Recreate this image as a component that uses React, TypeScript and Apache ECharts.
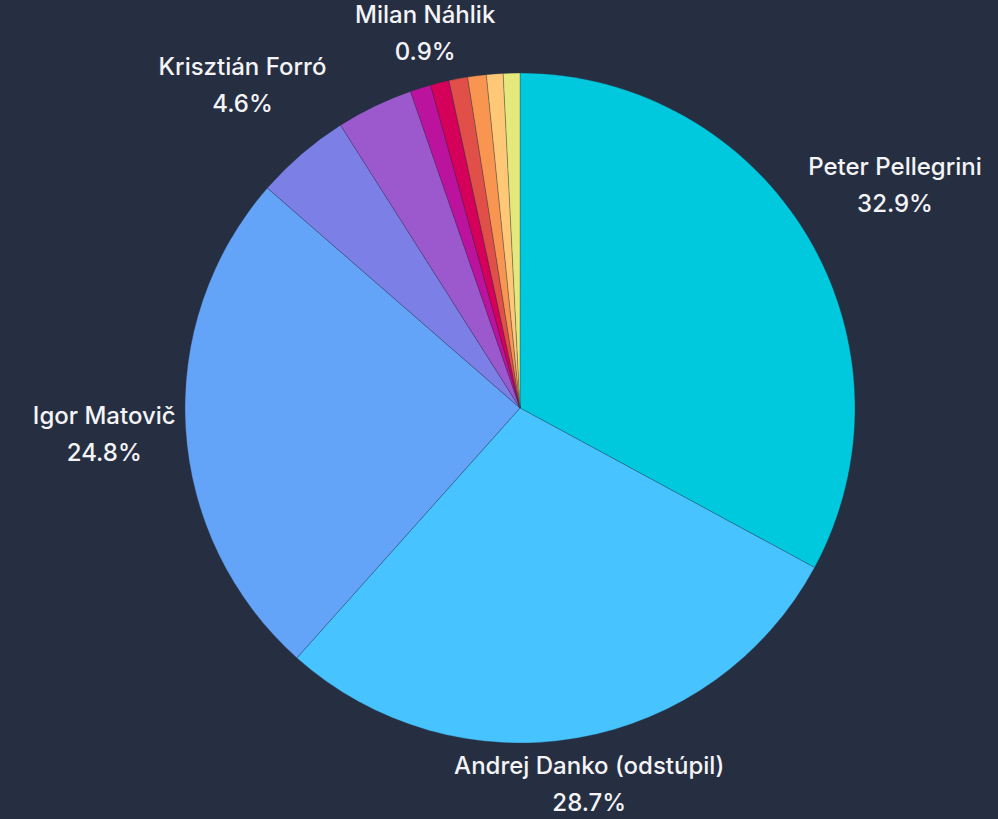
import React, { useEffect, useRef } from "react";
import * as echarts from "echarts";

const names = [
  "Peter Pellegrini",
  "Andrej Danko (odstúpil)",
  "Igor Matovič",
  "Krisztián Forró",
  "Štefan Harabin",
  "Marian Kotleba",
  "Milan Náhlik",
  "Patrik Dubovský",
  "Ján Kubiš (odstúpil)",
  "Róbert Švec",
  "Ivan Korčok",
];
const values = [32.9, 28.7, 24.8, 4.6, 3.7, 1.0, 0.9, 0.9, 0.9, 0.8, 0.8];
const colors = [
  "#00C9DD",
  "#47C4FF",
  "#63A4F9",
  "#7C7FE6",
  "#9B59CD",
  "#BC139E",
  "#D5005A",
  "#E04F48",
  "#F89550",
  "#FFC877",
  "#E5E87B",
];
const showLabel = [true, true, true, true, false, false, true, false, false, false, false];

const BG = "#262F42";
const W = 998;
const H = 819;
const CX = 520;
const CY = 408;
const RADIUS = 335;
const LABEL_GAP_R = 343;

export default function App() {
  const ref = useRef<HTMLDivElement>(null);

  useEffect(() => {
    if (!ref.current) return;
    const chart = echarts.init(ref.current, undefined, { renderer: "svg" });
    const total = values.reduce((a, b) => a + b, 0);
    const mids: number[] = [];
    let acc = 0;
    values.forEach((v) => {
      mids.push(((acc + v / 2) / total) * Math.PI * 2);
      acc += v;
    });

    chart.setOption({
      animation: false,
      backgroundColor: BG,
      series: [
        {
          type: "pie",
          center: [CX, CY],
          radius: [0, RADIUS],
          startAngle: 90,
          clockwise: true,
          avoidLabelOverlap: false,
          percentPrecision: 1,
          silent: true,
          itemStyle: {
            borderColor: "rgba(38,47,66,0.6)",
            borderWidth: 0.5,
          },
          label: {
            show: true,
            position: "inside",
            formatter: "{b}\n{d}%",
            color: "#F4F4F6",
            fontFamily: "Inter",
            fontWeight: 500,
            fontSize: 24,
            lineHeight: 37,
            align: "center",
          },
          labelLine: { show: false },
          labelLayout: (params: any) => {
            const i = params.dataIndex;
            const r = params.labelRect;
            const w = r.width;
            const h = r.height;
            const a = mids[i];
            const s = Math.sin(a);
            const c = Math.cos(a);
            const t = LABEL_GAP_R + (Math.abs(s) * w) / 2 + (Math.abs(c) * h) / 2;
            let x = CX + s * t;
            let y = CY - c * t;
            const cw = chart.getWidth();
            const ch = chart.getHeight();
            if (y + h / 2 > ch + 2) y = ch + 2 - h / 2;
            if (y - h / 2 < -4) y = -4 + h / 2;
            if (x + w / 2 > cw) x = cw - w / 2;
            if (x - w / 2 < 0) x = w / 2;
            return { x, y, align: "center", verticalAlign: "middle" };
          },
          emphasis: { disabled: true },
          data: names.map((n, i) => ({
            name: n,
            value: values[i],
            itemStyle: { color: colors[i] },
            label: { show: showLabel[i] },
          })),
        },
      ],
    });
    return () => chart.dispose();
  }, []);

  return (
    <div
      ref={ref}
      style={{ position: "fixed", left: 0, top: 0, width: W, height: H, background: BG }}
    />
  );
}
